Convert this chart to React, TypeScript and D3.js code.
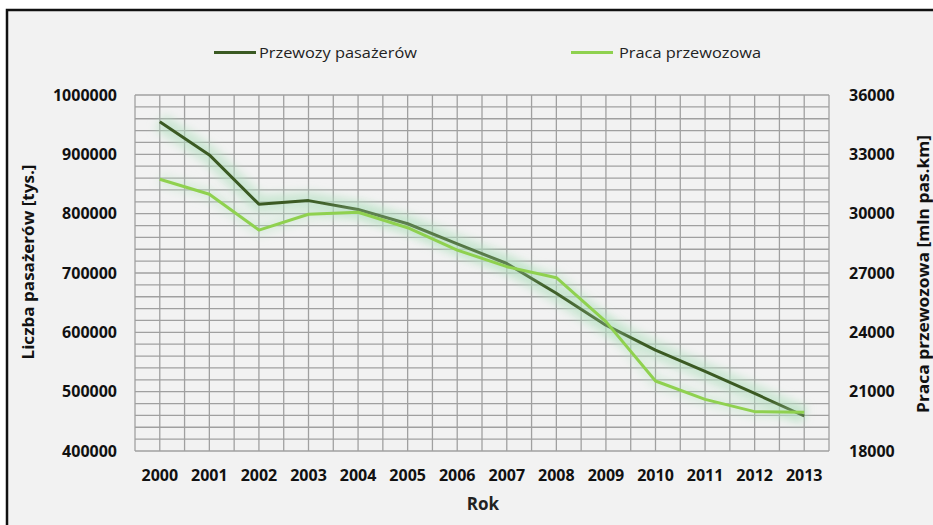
import React from 'react';
import * as d3 from 'd3';

const years = ['2000', '2001', '2002', '2003', '2004', '2005', '2006', '2007', '2008', '2009', '2010', '2011', '2012', '2013'];
// Przewozy pasażerów [tys.] (left axis)
const passengers = [955000, 899000, 816000, 822000, 807000, 783000, 749000, 716000, 666000, 612000, 570000, 534000, 497000, 459000];
// Praca przewozowa [mln pas.km] (right axis)
const work = [31740, 30980, 29170, 29970, 30070, 29290, 28160, 27320, 26760, 24540, 21540, 20610, 19990, 19960];
const leftTicks = [400000, 500000, 600000, 700000, 800000, 900000, 1000000];
const rightTicks = [18000, 21000, 24000, 27000, 30000, 33000, 36000];

const W = 933;
const H = 525;
const plot = { left: 135, right: 829, top: 95, bottom: 451 };
const darkColor = '#3b5a23';
const lightColor = '#8fd14f';
const glowColor = '#b3e0c0';
const font = "'Open Sans', 'Noto Sans', sans-serif";

const App = () => {
  const x = d3.scaleBand().domain(years).range([plot.left, plot.right]);
  const yL = d3.scaleLinear().domain([400000, 1000000]).range([plot.bottom, plot.top]);
  const yR = d3.scaleLinear().domain([18000, 36000]).range([plot.bottom, plot.top]);
  const bw = x.bandwidth();

  // grid: vertical lines at band edges and centres, horizontal every 20000
  const vLines: number[] = [];
  years.forEach((yr) => {
    vLines.push(x(yr)!);
    vLines.push(x(yr)! + bw / 2);
  });
  vLines.push(plot.right);
  const hLines = yL.ticks(30);

  const cx = (i: number) => x(years[i])! + bw / 2;
  const lineL = d3.line<number>().x((d, i) => cx(i)).y((d) => yL(d));
  const lineR = d3.line<number>().x((d, i) => cx(i)).y((d) => yR(d));

  return (
    <svg width={W} height={H} style={{ position: 'absolute', left: 0, top: 0, background: '#fff' }}>
      <defs>
        <filter id="glow" x="-10%" y="-20%" width="120%" height="140%">
          <feGaussianBlur stdDeviation="5" />
        </filter>
      </defs>
      <rect x={7} y={10} width={W + 10} height={H + 10} fill="#f2f2f2" stroke="#111" strokeWidth={2.5} />

      {/* legend */}
      <line x1={214} x2={256} y1={52.5} y2={52.5} stroke={darkColor} strokeWidth={3} />
      <text x={259} y={57.5} fontFamily={font} fontSize={15} fill="#222" textLength={158} lengthAdjust="spacingAndGlyphs">
        Przewozy pasażerów
      </text>
      <line x1={571} x2={613} y1={52.5} y2={52.5} stroke={lightColor} strokeWidth={3} />
      <text x={619} y={57.5} fontFamily={font} fontSize={15} fill="#222" textLength={142} lengthAdjust="spacingAndGlyphs">
        Praca przewozowa
      </text>

      {/* grid */}
      <g stroke="#a0a0a0" strokeWidth={1.3}>
        {hLines.map((v) => (
          <line key={'h' + v} x1={plot.left} x2={plot.right} y1={yL(v)} y2={yL(v)} />
        ))}
        {vLines.map((v, i) => (
          <line key={'v' + i} x1={v} x2={v} y1={plot.top} y2={plot.bottom} />
        ))}
      </g>

      {/* tick labels */}
      <g fontFamily={font} fontWeight={700} fontSize={16} fill="#111">
        {leftTicks.map((t) => (
          <text key={t} x={117} y={yL(t)} dy="0.35em" textAnchor="end">{t}</text>
        ))}
        {rightTicks.map((t) => (
          <text key={t} x={849} y={yR(t)} dy="0.35em">{t}</text>
        ))}
        {years.map((yr) => (
          <text key={yr} x={x(yr)! + bw / 2} y={481} textAnchor="middle">{yr}</text>
        ))}
      </g>

      {/* axis titles */}
      <text x={483} y={510} textAnchor="middle" fontFamily={font} fontWeight={700} fontSize={17} fill="#222">Rok</text>
      <text transform="translate(34,262) rotate(-90)" textAnchor="middle" fontFamily={font} fontWeight={700} fontSize={16} fill="#111" textLength={195} lengthAdjust="spacingAndGlyphs">
        Liczba pasażerów  [tys.]
      </text>
      <text transform="translate(929,274) rotate(-90)" textAnchor="middle" fontFamily={font} fontWeight={700} fontSize={16} fill="#111" textLength={278} lengthAdjust="spacingAndGlyphs">
        Praca przewozowa  [mln pas.km]
      </text>

      {/* series */}
      <path d={lineL(passengers)!} fill="none" stroke={glowColor} strokeOpacity={0.6} strokeWidth={18} strokeLinejoin="round" filter="url(#glow)" />
      <path d={lineL(passengers)!} fill="none" stroke={darkColor} strokeWidth={3} strokeLinejoin="round" />
      <path d={lineR(work)!} fill="none" stroke={glowColor} strokeOpacity={0.4} strokeWidth={12} strokeLinejoin="round" filter="url(#glow)" />
      <path d={lineR(work)!} fill="none" stroke={lightColor} strokeWidth={3} strokeLinejoin="round" />
    </svg>
  );
};

export default App;
